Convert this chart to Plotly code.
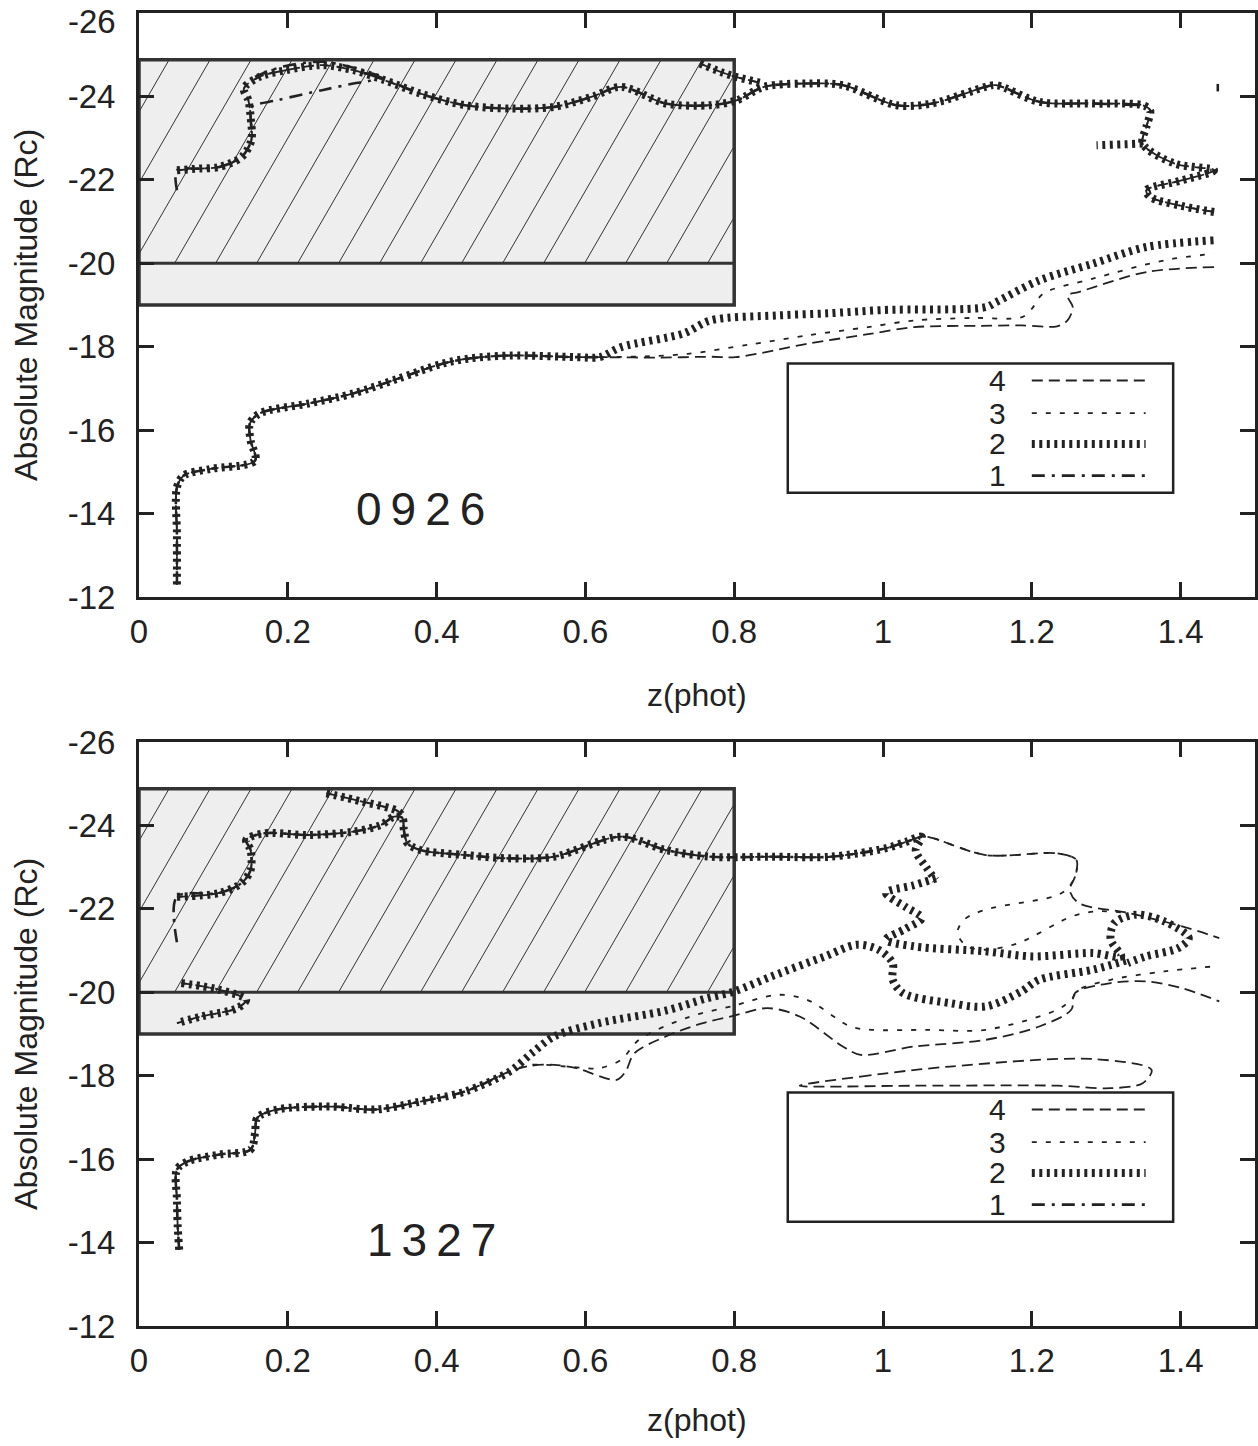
import math
import plotly.graph_objects as go

# ----------------------------------------------------------------- data
# panel "0926" (top)
top_low_z = [0.051, 0.051, 0.051, 0.06, 0.096, 0.156, 0.15, 0.149, 0.162, 0.228, 0.288, 0.349, 0.409, 0.445, 0.499, 0.589, 0.619]
top_low_m = [-12.3, -13.5, -14.63, -14.91, -15.07, -15.27, -15.75, -16.16, -16.4, -16.64, -16.88, -17.24, -17.6, -17.72, -17.79, -17.75, -17.75]

top_s2_tail_z = [0.648, 0.732, 0.768, 0.858, 0.925, 1.0, 1.138, 1.152, 1.21, 1.282, 1.354, 1.445]
top_s2_tail_m = [-17.99, -18.32, -18.63, -18.75, -18.8, -18.88, -18.95, -19.07, -19.59, -19.99, -20.39, -20.55]

top_s3_tail_z = [0.68, 0.738, 0.82, 0.898, 0.98, 1.042, 1.12, 1.187, 1.2, 1.215, 1.282, 1.378, 1.445]
top_s3_tail_m = [-17.77, -17.83, -18.05, -18.27, -18.47, -18.63, -18.69, -18.71, -18.91, -19.27, -19.63, -20.07, -20.23]

top_s4_tail_z = [0.7, 0.77, 0.802, 0.898, 0.98, 1.042, 1.13, 1.187, 1.234, 1.248, 1.255, 1.248, 1.263, 1.354, 1.445]
top_s4_tail_m = [-17.74, -17.76, -17.75, -18.07, -18.3, -18.47, -18.5, -18.51, -18.49, -18.63, -18.95, -19.23, -19.31, -19.79, -19.91]

top_up_z = [0.051, 0.08, 0.108, 0.138, 0.151, 0.15, 0.147, 0.141, 0.162, 0.198,
            0.246, 0.288, 0.33, 0.378, 0.438, 0.498, 0.558, 0.61, 0.648, 0.708,
            0.768, 0.804, 0.84, 0.898, 0.946, 1.018, 1.066, 1.138, 1.152, 1.21,
            1.282, 1.349, 1.359, 1.354, 1.349, 1.392, 1.445, 1.40, 1.354, 1.359,
            1.40, 1.445]
top_up_m = [-22.23, -22.27, -22.31, -22.55, -22.95, -23.51, -23.91, -24.19, -24.47, -24.63,
            -24.75, -24.63, -24.39, -24.07, -23.79, -23.71, -23.75, -24.0, -24.23, -23.83,
            -23.79, -23.91, -24.23, -24.31, -24.27, -23.79, -23.83, -24.23, -24.27, -23.87,
            -23.83, -23.79, -23.67, -23.27, -22.87, -22.39, -22.23, -21.98, -21.75, -21.59,
            -21.38, -21.23]

top_up2_z = [0.754, 0.78, 0.802, 0.84]
top_up2_m = [-24.79, -24.6, -24.47, -24.31]

top_s2_wedge_z = [1.349, 1.32, 1.287]
top_s2_wedge_m = [-22.87, -22.85, -22.83]

top_s1_a_z = [0.051, 0.051, 0.08, 0.108, 0.138, 0.151, 0.15, 0.152, 0.186, 0.246, 0.288, 0.312, 0.318, 0.296]
top_s1_a_m = [-21.75, -22.23, -22.27, -22.31, -22.55, -22.95, -23.51, -23.75, -23.91, -24.15, -24.31, -24.39, -24.52, -24.55]
top_s1_b_z = [0.156, 0.192, 0.246, 0.29, 0.33, 0.378]
top_s1_b_m = [-24.47, -24.71, -24.83, -24.68, -24.42, -24.07]
top_s1_c_z = [1.45, 1.45]
top_s1_c_m = [-24.12, -24.3]

# panel "1327" (bottom)
bot_low_z = [0.054, 0.052, 0.051, 0.051, 0.066, 0.108, 0.15, 0.156, 0.159, 0.186, 0.258, 0.318, 0.378, 0.438, 0.498]
bot_low_m = [-13.83, -14.4, -15.03, -15.75, -15.95, -16.11, -16.23, -16.63, -16.99, -17.19, -17.26, -17.19, -17.38, -17.62, -18.1]

bot_s2_tail_z = [0.528, 0.558, 0.618, 0.708, 0.762, 0.8, 0.85, 0.922, 0.965, 0.994, 1.013, 1.013, 1.027, 1.09, 1.138, 1.186, 1.21, 1.282, 1.33]
bot_s2_tail_m = [-18.54, -18.94, -19.26, -19.56, -19.85, -20.02, -20.38, -20.86, -21.14, -21.02, -20.7, -20.3, -19.98, -19.74, -19.66, -20.02, -20.3, -20.54, -20.78]

bot_s3_tail_z = [0.527, 0.588, 0.618, 0.648, 0.672, 0.738, 0.8, 0.859, 0.898, 0.956, 0.985, 1.06, 1.138, 1.234, 1.253, 1.263, 1.306, 1.378, 1.445]
bot_s3_tail_m = [-18.26, -18.2, -18.18, -18.38, -18.86, -19.4, -19.68, -19.94, -19.82, -19.18, -19.1, -19.1, -19.1, -19.58, -19.82, -20.06, -20.3, -20.5, -20.62]

bot_s4_tail_z = [0.527, 0.558, 0.588, 0.642, 0.654, 0.666, 0.708, 0.754, 0.8, 0.845, 0.888, 0.946, 0.97, 1.042, 1.138, 1.21, 1.253, 1.258, 1.306, 1.354, 1.402, 1.452]
bot_s4_tail_m = [-18.24, -18.26, -18.18, -17.9, -18.1, -18.54, -18.94, -19.24, -19.44, -19.62, -19.42, -18.7, -18.5, -18.7, -18.86, -19.18, -19.58, -19.98, -20.22, -20.26, -20.1, -19.78]

bot_up_z = [0.051, 0.108, 0.138, 0.15, 0.15, 0.144, 0.168, 0.228, 0.288, 0.325,
            0.343, 0.354, 0.356, 0.361, 0.378, 0.438, 0.498, 0.558, 0.648, 0.708,
            0.768, 0.85, 0.93, 1.003, 1.03, 1.052]
bot_up_m = [-22.29, -22.38, -22.62, -22.93, -23.41, -23.65, -23.81, -23.77, -23.85, -24.01,
            -24.21, -24.18, -23.89, -23.57, -23.41, -23.29, -23.21, -23.25, -23.73, -23.41,
            -23.25, -23.25, -23.25, -23.45, -23.6, -23.73]

bot_up2_z = [0.252, 0.3, 0.349, 0.354]
bot_up2_m = [-24.77, -24.57, -24.33, -24.18]

bot_box_z = [0.057, 0.108, 0.144, 0.132, 0.084, 0.051]
bot_box_m = [-20.22, -20.06, -19.82, -19.62, -19.42, -19.26]

bot_s2_pk_z = [1.052, 1.044, 1.058, 1.071]
bot_s2_pk_m = [-23.73, -23.4, -23.0, -22.69]

bot_s2_zig_z = [1.071, 1.04, 1.004, 1.03, 1.052, 1.03, 1.004, 1.042, 1.138, 1.2, 1.282, 1.32, 1.306, 1.311, 1.34, 1.378, 1.411, 1.397, 1.353, 1.329]
bot_s2_zig_m = [-22.73, -22.56, -22.38, -22.05, -21.78, -21.52, -21.26, -21.1, -20.98, -20.86, -20.94, -20.86, -21.26, -21.66, -21.86, -21.7, -21.3, -21.06, -20.86, -20.7]

bot_s4_pk_z = [1.052, 1.066, 1.138, 1.234, 1.26, 1.258, 1.251, 1.263, 1.33, 1.402, 1.452]
bot_s4_pk_m = [-23.73, -23.7, -23.29, -23.33, -23.17, -22.77, -22.45, -22.14, -21.9, -21.58, -21.3]

bot_s3_pk_z = [1.052, 1.066, 1.138, 1.234, 1.26, 1.258, 1.246, 1.23, 1.138, 1.109, 1.1, 1.113, 1.138, 1.182, 1.254, 1.288, 1.33]
bot_s3_pk_m = [-23.73, -23.7, -23.29, -23.33, -23.17, -22.77, -22.45, -22.3, -21.98, -21.74, -21.42, -21.1, -21.02, -21.18, -21.82, -21.94, -21.9]

bot_s4_loop_z = [0.888, 0.97, 1.09, 1.282, 1.361, 1.349, 1.306, 1.234, 1.042, 0.888]
bot_s4_loop_m = [-17.76, -17.98, -18.22, -18.4, -18.14, -17.82, -17.7, -17.76, -17.76, -17.76]

bot_s1_start_z = [0.051]
bot_s1_start_m = [-21.2]

legend_labels = ["4", "3", "2", "1"]
legend_series = [4, 3, 2, 1]
panel_labels = ["0926", "1327"]
panel_label_pos = [(0.384, -14.12), (0.399, -14.07)]

x_ticks = [0, 0.2, 0.4, 0.6, 0.8, 1.0, 1.2, 1.4]
x_ticktext = ["0", "0.2", "0.4", "0.6", "0.8", "1", "1.2", "1.4"]
y_ticks = [-26, -24, -22, -20, -18, -16, -14, -12]
y_ticktext = ["-26", "-24", "-22", "-20", "-18", "-16", "-14", "-12"]

# ----------------------------------------------------------------- styles
INK = "#222222"
STY = {
    1: dict(color=INK, width=2.6, dash="13px,7px,3px,7px"),
    2: dict(color=INK, width=8, dash="3px,4.5px"),
    3: dict(color=INK, width=1.8, dash="5px,9px"),
    4: dict(color=INK, width=1.8, dash="11px,6px"),
}
FONT = "Liberation Sans, Arial, sans-serif"
TICK_SIZE = 33


def join(*segs):
    xs, ys = [], []
    for sx, sy in segs:
        if xs:
            xs.append(None)
            ys.append(None)
        xs += list(sx)
        ys += list(sy)
    return xs, ys


top_series = {
    4: join((top_low_z + top_s4_tail_z, top_low_m + top_s4_tail_m), (top_up_z, top_up_m), (top_up2_z, top_up2_m)),
    3: join((top_low_z + top_s3_tail_z, top_low_m + top_s3_tail_m), (top_up_z, top_up_m), (top_up2_z, top_up2_m)),
    1: join((top_low_z, top_low_m), (top_s1_a_z, top_s1_a_m),
            (top_s1_b_z + top_up_z[14:32], top_s1_b_m + top_up_m[14:32]), (top_s1_c_z, top_s1_c_m)),
    2: join((top_low_z + top_s2_tail_z, top_low_m + top_s2_tail_m), (top_up_z, top_up_m),
            (top_up2_z, top_up2_m), (top_s2_wedge_z, top_s2_wedge_m)),
}
bot_series = {
    4: join((bot_low_z + bot_s4_tail_z, bot_low_m + bot_s4_tail_m), (bot_up_z + bot_s4_pk_z[1:], bot_up_m + bot_s4_pk_m[1:]),
            (bot_up2_z, bot_up2_m), (bot_box_z, bot_box_m), (bot_s4_loop_z, bot_s4_loop_m)),
    3: join((bot_low_z + bot_s3_tail_z, bot_low_m + bot_s3_tail_m), (bot_up_z + bot_s3_pk_z[1:], bot_up_m + bot_s3_pk_m[1:]),
            (bot_up2_z, bot_up2_m), (bot_box_z, bot_box_m)),
    1: join((bot_low_z, bot_low_m), (bot_s1_start_z + bot_up_z, bot_s1_start_m + bot_up_m)),
    2: join((bot_low_z + bot_s2_tail_z, bot_low_m + bot_s2_tail_m), (bot_up_z + bot_s2_pk_z[1:], bot_up_m + bot_s2_pk_m[1:]),
            (bot_up2_z, bot_up2_m), (bot_box_z, bot_box_m), (bot_s2_zig_z, bot_s2_zig_m)),
}

fig = go.Figure()
for series, xa, ya in ((top_series, "x", "y"), (bot_series, "x2", "y2")):
    for k in (4, 3, 1, 2):
        xs, ys = series[k]
        fig.add_trace(go.Scatter(x=xs, y=ys, mode="lines", xaxis=xa, yaxis=ya,
                                 line=dict(shape="spline", smoothing=0.9, **STY[k]),
                                 connectgaps=False, showlegend=False, hoverinfo="skip"))

# ----------------------------------------------------------------- decorations
shapes = []
annotations = []
BOX_X0, BOX_X1 = 0.0, 0.8
BOX_TOP, BOX_MID, BOX_BOT = -24.88, -20.0, -19.0
PX_PER_Z = 744.0
HATCH_STEP = 41.0 / PX_PER_Z
HATCH_DZ = 0.158          # horizontal run of one hatch line across the hatched band
HATCH_PHASE = 0.0478

LEG_X0, LEG_X1, LEG_TOP, LEG_BOT = 0.872, 1.39, -17.6, -14.5
LEG_TXT_X, LEG_S0, LEG_S1 = 1.168, 1.2, 1.353
LEG_Y = [-17.19, -16.41, -15.67, -14.91]

for i, (xa, ya) in enumerate((("x", "y"), ("x2", "y2"))):
    shapes.append(dict(type="rect", xref=xa, yref=ya, x0=BOX_X0, x1=BOX_X1, y0=BOX_BOT, y1=BOX_TOP,
                       fillcolor="#eeeeee", line=dict(width=0), layer="below"))
    n0 = math.ceil((HATCH_PHASE + HATCH_DZ) / HATCH_STEP)
    xb = HATCH_PHASE - n0 * HATCH_STEP
    while xb < BOX_X1:
        t0 = max(0.0, (BOX_X0 - xb) / HATCH_DZ)
        t1 = min(1.0, (BOX_X1 - xb) / HATCH_DZ)
        if t1 > t0:
            shapes.append(dict(type="line", xref=xa, yref=ya,
                               x0=xb + t0 * HATCH_DZ, y0=BOX_MID + t0 * (BOX_TOP - BOX_MID),
                               x1=xb + t1 * HATCH_DZ, y1=BOX_MID + t1 * (BOX_TOP - BOX_MID),
                               line=dict(color="#333333", width=1), layer="below"))
        xb += HATCH_STEP
    shapes.append(dict(type="rect", xref=xa, yref=ya, x0=BOX_X0, x1=BOX_X1, y0=BOX_BOT, y1=BOX_TOP,
                       fillcolor="rgba(0,0,0,0)", line=dict(color="#333333", width=3.5), layer="below"))
    shapes.append(dict(type="line", xref=xa, yref=ya, x0=BOX_X0, x1=BOX_X1, y0=BOX_MID, y1=BOX_MID,
                       line=dict(color="#333333", width=3), layer="below"))
    # legend box
    shapes.append(dict(type="rect", xref=xa, yref=ya, x0=LEG_X0, x1=LEG_X1, y0=LEG_TOP, y1=LEG_BOT,
                       fillcolor="white", line=dict(color=INK, width=2.5), layer="above"))
    for lab, k, ly in zip(legend_labels, legend_series, LEG_Y):
        shapes.append(dict(type="line", xref=xa, yref=ya, x0=LEG_S0, x1=LEG_S1, y0=ly, y1=ly,
                           line=STY[k], layer="above"))
        annotations.append(dict(x=LEG_TXT_X, y=ly, xref=xa, yref=ya, text=lab, showarrow=False,
                                xanchor="right", yanchor="middle",
                                font=dict(family=FONT, size=30, color=INK)))
    px, py = panel_label_pos[i]
    annotations.append(dict(x=px, y=py, xref=xa, yref=ya,
                            text='<span style="letter-spacing:9px">' + panel_labels[i] + '</span>',
                            showarrow=False, xanchor="center", yanchor="middle",
                            font=dict(family=FONT, size=46, color=INK)))

# axis titles as annotations
TOP_DOM = [0.5552, 1.0]
BOT_DOM = [0.0, 0.4448]
for yc, yt in ((0.7776, 0.4806), (0.2224, -0.0716)):
    annotations.append(dict(x=-0.1013, y=yc, xref="paper", yref="paper", text="Absolute Magnitude (Rc)",
                            textangle=-90, showarrow=False, xanchor="center", yanchor="middle",
                            font=dict(family=FONT, size=32, color=INK)))
    annotations.append(dict(x=0.5, y=yt, xref="paper", yref="paper", text="z(phot)",
                            showarrow=False, xanchor="center", yanchor="middle",
                            font=dict(family=FONT, size=32, color=INK)))

# the topmost "-26" label of the upper panel sits right at the page edge: place it so it stays inside
annotations.append(dict(x=-0.0192, y=1.0 + 12.0 / 1313.0, xref="paper", yref="paper", text=y_ticktext[0],
                        showarrow=False, xanchor="right", yanchor="top",
                        font=dict(family=FONT, size=TICK_SIZE, color=INK)))
top_y_ticktext = [""] + y_ticktext[1:]

xcommon = dict(range=[0, 1.5], tickvals=x_ticks, ticktext=x_ticktext, ticks="inside", ticklen=15,
               tickwidth=2.5, tickcolor=INK, showline=True, linewidth=3, linecolor=INK,
               mirror="allticks", showgrid=False, zeroline=False, automargin=False,
               ticklabeloverflow="allow",
               tickfont=dict(family=FONT, size=TICK_SIZE, color=INK), ticklabelstandoff=3)
ycommon = dict(range=[-12, -26], tickvals=y_ticks, ticks="inside", ticklen=15,
               tickwidth=2.5, tickcolor=INK, showline=True, linewidth=3, linecolor=INK,
               mirror="allticks", showgrid=False, zeroline=False, automargin=False,
               ticklabeloverflow="allow",
               tickfont=dict(family=FONT, size=TICK_SIZE, color=INK), ticklabelstandoff=14)

fig.update_layout(
    width=1258, height=1446,
    margin=dict(l=139, r=3, t=13, b=120),
    paper_bgcolor="white", plot_bgcolor="white",
    showlegend=False,
    xaxis=dict(domain=[0, 1], anchor="y", **xcommon),
    yaxis=dict(domain=TOP_DOM, anchor="x", ticktext=top_y_ticktext, **ycommon),
    xaxis2=dict(domain=[0, 1], anchor="y2", **xcommon),
    yaxis2=dict(domain=BOT_DOM, anchor="x2", ticktext=y_ticktext, **ycommon),
    shapes=shapes,
    annotations=annotations,
)

fig.write_html("out.html")
